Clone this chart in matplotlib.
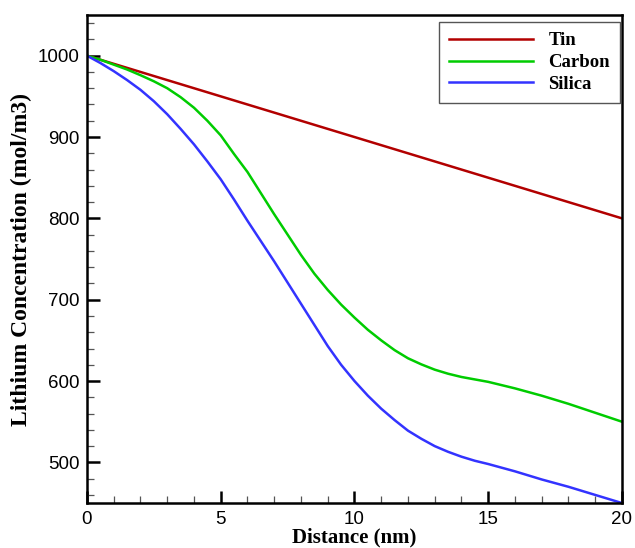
import matplotlib
matplotlib.use("Agg")
import matplotlib.pyplot as plt
from matplotlib.ticker import MultipleLocator

distance = [0, 0.5, 1, 1.5, 2, 2.5, 3, 3.5, 4, 4.5, 5, 5.5, 6, 6.5, 7, 7.5, 8, 8.5, 9, 9.5,
            10, 10.5, 11, 11.5, 12, 12.5, 13, 13.5, 14, 14.5, 15, 15.5, 16, 16.5, 17, 17.5, 18, 18.5, 19, 19.5, 20]
tin = [1000, 995, 990, 985, 980, 975, 970, 965, 960, 955, 950, 945, 940, 935, 930, 925, 920, 915, 910, 905,
       900, 895, 890, 885, 880, 875, 870, 865, 860, 855, 850, 845, 840, 835, 830, 825, 820, 815, 810, 805, 800]
carbon = [1000, 995, 989, 983, 976, 968.5, 960, 949, 936, 920, 902, 879, 857, 831, 805, 780, 755, 732, 712, 694,
          678, 663, 650, 638, 628, 620.5, 614, 609, 605, 602, 599, 595, 591, 586.5, 582, 577, 572, 566.5, 561, 555.5, 550]
silica = [1000, 991, 981, 970, 958, 944, 928, 910, 891, 870, 848, 823, 797, 772, 747, 721, 695, 669, 643, 620,
          600, 582, 566, 552, 539, 529, 520, 513, 507, 502, 498, 493.5, 489, 484, 479, 474.5, 470, 465, 460, 455, 450]

serif = ["Liberation Serif", "DejaVu Serif"]
sans = ["Liberation Sans", "DejaVu Sans"]

fig = plt.figure(figsize=(6.35, 5.48), dpi=100)
ax = fig.add_axes([0.137, 0.082, 0.9795 - 0.137, 0.9726 - 0.082])

ax.plot(distance, tin, color="#B20000", lw=1.8, label="Tin")
ax.plot(distance, carbon, color="#00CC00", lw=1.8, label="Carbon")
ax.plot(distance, silica, color="#3333FF", lw=1.8, label="Silica")

ax.set_xlim(0, 20)
ax.set_ylim(450, 1050)
ax.xaxis.set_major_locator(MultipleLocator(5))
ax.xaxis.set_minor_locator(MultipleLocator(1))
ax.yaxis.set_minor_locator(MultipleLocator(20))
ax.set_yticks([500, 600, 700, 800, 900, 1000])

ax.tick_params(which="major", direction="in", length=9, width=1.8, top=False, right=False, labelsize=13.5, pad=5.5)
ax.tick_params(which="minor", direction="in", length=5, width=0.9, color="#555555", top=False, right=False)
for lbl in ax.get_xticklabels() + ax.get_yticklabels():
    lbl.set_fontfamily(sans)
for sp in ax.spines.values():
    sp.set_linewidth(1.8)

ax.set_xlabel("Distance (nm)", fontfamily=serif, fontweight="bold", fontsize=15, labelpad=0)
ax.set_ylabel("Lithium Concentration (mol/m3)", fontfamily=serif, fontweight="bold", fontsize=17, labelpad=4)

leg = ax.legend(loc="upper right", bbox_to_anchor=(0.997, 0.986), prop={"family": serif, "weight": "bold", "size": 13.5},
                handlelength=4.5, labelspacing=0.25, fancybox=False, framealpha=1, borderpad=0.55, handletextpad=0.8,
                borderaxespad=0)
leg.get_frame().set_edgecolor("#555555")
leg.get_frame().set_linewidth(1.0)

fig.savefig("out.png", dpi=100)
